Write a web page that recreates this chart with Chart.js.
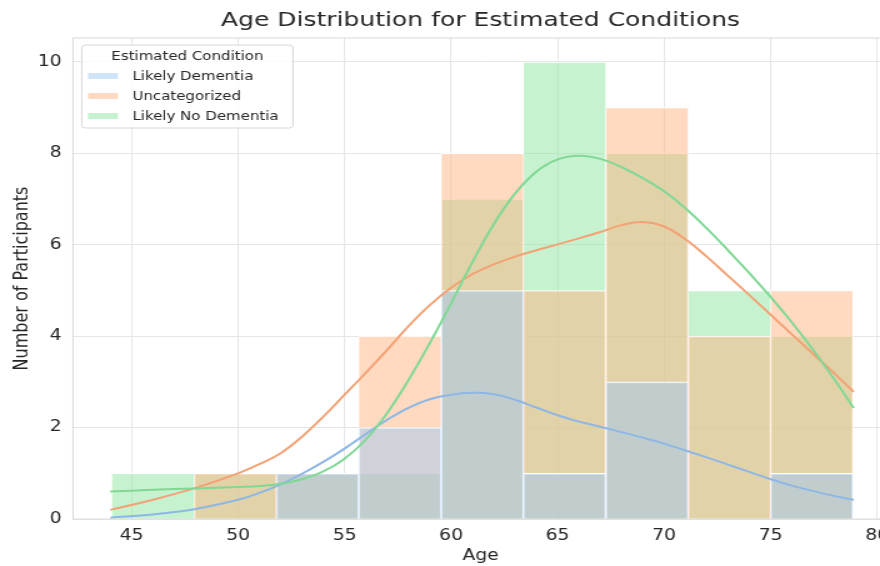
<!DOCTYPE html>
<html>
<head>
<meta charset="utf-8">
<script src="https://cdn.jsdelivr.net/npm/chart.js@4.4.1/dist/chart.umd.min.js"></script>
<style>
  html, body { margin: 0; padding: 0; background: #fff; overflow: hidden; width: 880px; height: 566px; }
  #chart { display: block; transform: scaleX(1.25); transform-origin: 0 0; }
</style>
</head>
<body>
<canvas id="chart" width="720" height="566"></canvas>
<script>
const conditions = ["Likely Dementia", "Uncategorized", "Likely No Dementia"];

// histogram bins (age at bin centre) and counts per condition
const binCenters = [46.0, 49.87, 53.73, 57.6, 61.47, 65.33, 69.2, 73.07, 76.93];
const dementiaCounts = [0, 0, 1, 2, 5, 1, 3, 0, 1];
const uncategorizedCounts = [0, 1, 1, 4, 8, 5, 9, 4, 5];
const noDementiaCounts = [1, 1, 1, 1, 7, 10, 8, 5, 4];

// kde curves
const kdeAges = [44, 46, 48, 50, 51, 52, 53, 54, 55, 56, 57, 58, 59, 60, 61, 62, 63, 64, 65, 66, 67, 68, 69, 70, 71, 72, 73, 74, 75, 76, 77, 78, 78.9];
const kdeDementia = [0.03, 0.1, 0.22, 0.42, 0.57, 0.76, 0.99, 1.25, 1.54, 1.86, 2.17, 2.43, 2.62, 2.72, 2.76, 2.73, 2.61, 2.44, 2.27, 2.13, 2.02, 1.9, 1.78, 1.65, 1.5, 1.35, 1.19, 1.03, 0.87, 0.73, 0.61, 0.5, 0.42];
const kdeUncategorized = [0.2, 0.42, 0.68, 1.0, 1.2, 1.44, 1.8, 2.24, 2.72, 3.2, 3.7, 4.22, 4.68, 5.06, 5.36, 5.57, 5.74, 5.88, 6.01, 6.14, 6.28, 6.43, 6.5, 6.4, 6.12, 5.74, 5.32, 4.9, 4.47, 4.04, 3.61, 3.18, 2.78];
const kdeNoDementia = [0.6, 0.64, 0.67, 0.7, 0.72, 0.77, 0.87, 1.04, 1.32, 1.74, 2.32, 3.04, 3.85, 4.72, 5.62, 6.45, 7.12, 7.6, 7.87, 7.95, 7.88, 7.7, 7.46, 7.17, 6.8, 6.36, 5.88, 5.38, 4.86, 4.3, 3.7, 3.05, 2.43];

const xTicks = [45, 50, 55, 60, 65, 70, 75, 80];
const yTicks = [0, 2, 4, 6, 8, 10];

const lineColors = ["#8fb7e6", "#f3a275", "#80d895"];
const fills = ["rgba(161,201,244,0.5)", "rgba(255,180,130,0.5)", "rgba(141,229,161,0.5)"];
const textColor = "#262626";

Chart.defaults.font.family = "'DejaVu Sans', sans-serif";
Chart.defaults.color = textColor;

function barSet(i, counts) {
  return {
    type: "bar",
    label: conditions[i],
    data: binCenters.map((x, k) => ({x, y: counts[k]})),
    backgroundColor: fills[i],
    borderColor: "#ffffff",
    borderWidth: {top: 1, left: 0.6, right: 0.6, bottom: 0},
    grouped: false,
    barPercentage: 1,
    categoryPercentage: 1,
    order: i + 1
  };
}

function kdeSet(i, values) {
  return {
    type: "line",
    label: conditions[i] + " kde",
    data: kdeAges.map((x, k) => ({x, y: values[k]})),
    borderColor: lineColors[i],
    borderWidth: 2,
    pointRadius: 0,
    fill: false,
    tension: 0.4,
    order: 0
  };
}

const frameAndLegend = {
  id: "frameAndLegend",
  beforeDatasetsDraw(chart) {
    const {ctx, chartArea: a} = chart;
    ctx.save();
    ctx.strokeStyle = "#dadada";
    ctx.lineWidth = 1;
    ctx.strokeRect(a.left, a.top, a.right - a.left, a.bottom - a.top);
    ctx.restore();
  },
  afterDraw(chart) {
    const {ctx, chartArea: a} = chart;
    const x0 = a.left + 7, y0 = a.top + 7, w = 169, h = 83;
    ctx.save();
    ctx.beginPath();
    ctx.roundRect(x0, y0, w, h, 3);
    ctx.fillStyle = "rgba(255,255,255,0.8)";
    ctx.fill();
    ctx.strokeStyle = "#d6d6d6";
    ctx.lineWidth = 1;
    ctx.stroke();
    ctx.font = "12px 'DejaVu Sans'";
    ctx.textBaseline = "middle";
    ctx.fillStyle = textColor;
    ctx.textAlign = "center";
    ctx.fillText("Estimated Condition", x0 + w / 2, y0 + 11.5);
    ctx.textAlign = "left";
    conditions.forEach((name, i) => {
      const yc = y0 + 31 + i * 20;
      ctx.fillStyle = fills[i];
      ctx.fillRect(x0 + 5, yc - 3, 24, 6);
      ctx.fillStyle = textColor;
      ctx.fillText(name, x0 + 40.5, yc + 1);
    });
    ctx.restore();
  }
};

new Chart(document.getElementById("chart"), {
  type: "bar",
  data: {
    datasets: [
      barSet(2, noDementiaCounts),
      barSet(1, uncategorizedCounts),
      barSet(0, dementiaCounts),
      kdeSet(2, kdeNoDementia),
      kdeSet(1, kdeUncategorized),
      kdeSet(0, kdeDementia)
    ]
  },
  options: {
    responsive: false,
    animation: false,
    layout: {padding: {left: 0, right: 9.6, top: 0, bottom: 0}},
    plugins: {
      legend: {display: false},
      tooltip: {enabled: false},
      title: {
        display: true,
        text: "Age Distribution for Estimated Conditions",
        fullSize: false,
        color: textColor,
        font: {size: 20, weight: "normal"},
        padding: {top: 9, bottom: 5}
      }
    },
    scales: {
      x: {
        type: "linear",
        min: 42.25,
        max: 80.51,
        offset: false,
        grid: {offset: false, color: "#e6e6e6", drawTicks: false},
        border: {display: false},
        ticks: {font: {size: 15}, color: textColor, padding: 8, maxRotation: 0, autoSkip: false},
        afterBuildTicks: s => { s.ticks = xTicks.map(v => ({value: v})); },
        afterFit: s => { s.height = 47; },
        title: {display: true, text: "Age", color: textColor, font: {size: 15}, padding: {top: 0, bottom: 1}}
      },
      y: {
        min: 0,
        max: 10.525,
        grid: {color: "#e6e6e6", drawTicks: false},
        border: {display: false},
        ticks: {font: {size: 15}, color: textColor, padding: 9},
        afterBuildTicks: s => { s.ticks = yTicks.map(v => ({value: v})); },
        afterFit: s => { s.width = 58.4; },
        title: {display: true, text: "Number of Participants", color: textColor, font: {size: 16}, padding: {top: 8, bottom: 0}}
      }
    }
  },
  plugins: [frameAndLegend]
});
</script>
</body>
</html>
